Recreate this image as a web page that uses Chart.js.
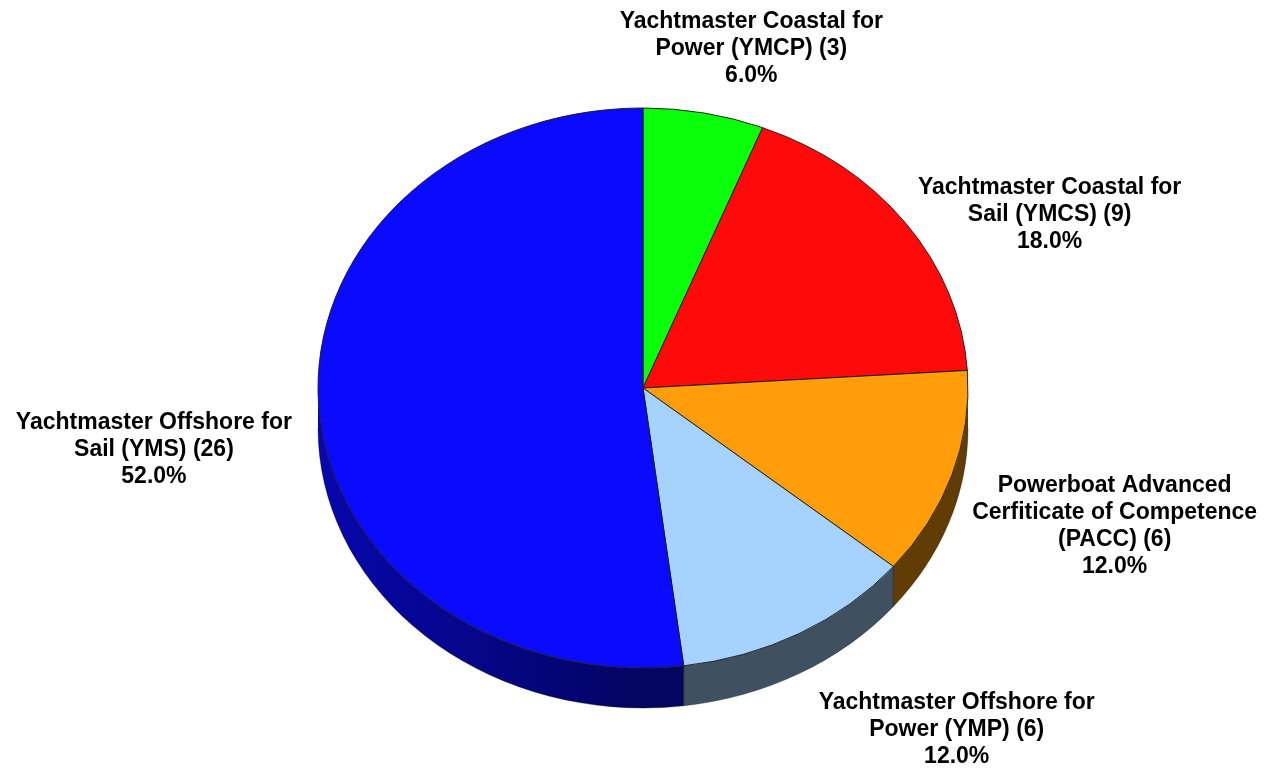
<!DOCTYPE html>
<html>
<head>
<meta charset="utf-8">
<script src="https://cdn.jsdelivr.net/npm/chart.js@4.4.0/dist/chart.umd.min.js"></script>
<style>
html, body { margin: 0; padding: 0; background: #fff; }
#wrap { width: 1268px; height: 768px; }
</style>
</head>
<body>
<div id="wrap"><canvas id="pie"></canvas></div>
<script>
var categories = [
    ['Yachtmaster Coastal for', 'Power (YMCP)'],
    ['Yachtmaster Coastal for', 'Sail (YMCS)'],
    ['Powerboat Advanced', 'Cerfiticate of Competence', '(PACC)'],
    ['Yachtmaster Offshore for', 'Power (YMP)'],
    ['Yachtmaster Offshore for', 'Sail (YMS)']
];
var counts = [3, 9, 6, 6, 26];
var sliceRgb = [[10, 255, 10], [255, 10, 10], [255, 158, 10], [166, 210, 255], [10, 10, 255]];

// look of the fake 3d
var tilt = 280 / 325;   // top face squashed into an ellipse
var depth = 40;         // wall height
var labelNudge = [[19, -5], [21, 27], [8, -11], [81, 3], [-7, 0]];

var total = counts.reduce(function (a, b) { return a + b; }, 0);

function rgbStr(c, f) {
    return 'rgb(' + c.map(function (v) { return Math.round(v * f); }).join(',') + ')';
}

var pie3d = {
    id: 'pie3d',
    beforeDatasetsDraw: function (chart) {
        var ctx = chart.ctx;
        var arcs = chart.getDatasetMeta(0).data;
        var cx = arcs[0].x, cy = arcs[0].y;
        var rx = arcs[0].outerRadius, ry = rx * tilt;

        // side walls, only the front half shows; darker towards the right
        arcs.forEach(function (arc, i) {
            var a = Math.max(arc.startAngle, 0), b = Math.min(arc.endAngle, Math.PI);
            if (a >= b) return;
            var g = ctx.createLinearGradient(cx - rx, 0, cx + rx, 0);
            for (var s = 0; s <= 10; s++) {
                var u = s / 10;               // 0 = left edge, 1 = right edge
                var f = 0.38 + 0.3 * Math.max(0, 1 - 2 * u);
                g.addColorStop(u, rgbStr(sliceRgb[i], f));
            }
            ctx.beginPath();
            ctx.ellipse(cx, cy, rx, ry, 0, a, b);
            ctx.ellipse(cx, cy + depth, rx, ry, 0, b, a, true);
            ctx.closePath();
            ctx.fillStyle = g;
            ctx.fill();
            // seam between walls
            if (arc.startAngle > 0 && arc.startAngle < Math.PI) {
                var sx = cx + rx * Math.cos(arc.startAngle), sy = cy + ry * Math.sin(arc.startAngle);
                ctx.beginPath();
                ctx.moveTo(sx, sy);
                ctx.lineTo(sx, sy + depth);
                ctx.strokeStyle = 'rgba(0,0,0,0.6)';
                ctx.lineWidth = 1;
                ctx.stroke();
            }
        });
        ctx.beginPath();
        ctx.ellipse(cx, cy + depth, rx, ry, 0, 0, Math.PI);
        ctx.strokeStyle = 'rgba(0,0,0,0.35)';
        ctx.lineWidth = 1;
        ctx.stroke();

        // top face: squash what chart.js draws
        ctx.save();
        ctx.translate(0, cy);
        ctx.scale(1, tilt);
        ctx.translate(0, -cy);
    },
    afterDatasetsDraw: function (chart) {
        var ctx = chart.ctx;
        ctx.restore();

        var arcs = chart.getDatasetMeta(0).data;
        var lh = 27, gap = 20;
        ctx.save();
        ctx.font = 'bold 23px "Liberation Sans", Arial, sans-serif';
        ctx.fillStyle = '#000';
        ctx.textAlign = 'center';
        ctx.textBaseline = 'middle';
        arcs.forEach(function (arc, i) {
            var mid = (arc.startAngle + arc.endAngle) / 2;
            var co = Math.cos(mid), si = Math.sin(mid);
            var rx = arc.outerRadius, ry = rx * tilt;
            var px = arc.x + rx * co;
            var py = arc.y + ry * si + (si > 0 ? depth : 0);
            var lines = categories[i].slice();
            lines[lines.length - 1] += ' (' + counts[i] + ')';
            lines.push((counts[i] / total * 100).toFixed(1) + '%');
            var w = 0;
            lines.forEach(function (l) { w = Math.max(w, ctx.measureText(l).width); });
            var h = lines.length * lh;
            var mx = px + co * (w / 2 + gap) + labelNudge[i][0];
            var my = py + si * (h / 2 + gap) + labelNudge[i][1];
            lines.forEach(function (l, k) {
                ctx.fillText(l, mx, my - h / 2 + lh / 2 + k * lh);
            });
        });
        ctx.restore();
    }
};

var ctx = document.getElementById('pie').getContext('2d');
var chart = new Chart(ctx, {
    type: 'pie',
    data: {
        labels: categories,
        datasets: [{
            data: counts,
            backgroundColor: sliceRgb.map(function (c) { return rgbStr(c, 1); }),
            borderColor: '#1a1a1a',
            borderWidth: 1,
            radius: 325,
            clip: false
        }]
    },
    options: {
        responsive: true,
        maintainAspectRatio: false,
        animation: false,
        events: [],
        layout: { padding: { left: 18, right: 0, top: 8, bottom: 0 } },
        plugins: {
            legend: { display: false },
            tooltip: { enabled: false }
        }
    },
    plugins: [pie3d]
});
</script>
</body>
</html>
